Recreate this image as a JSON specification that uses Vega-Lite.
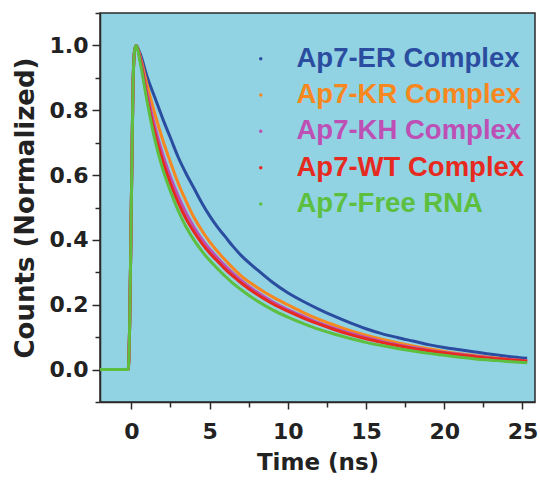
{
  "$schema": "https://vega.github.io/schema/vega-lite/v6.json",
  "autosize": "none",
  "width": 435,
  "height": 389,
  "padding": {"left": 100, "top": 13, "right": 5, "bottom": 81},
  "background": "white",
  "config": {
    "view": {"fill": "#91d3e3", "stroke": "#2a2a2a", "strokeWidth": 1.5},
    "font": "DejaVu Sans",
    "axis": {
      "grid": false,
      "domainColor": "#2a2a2a",
      "domainWidth": 1.5,
      "tickColor": "#2a2a2a",
      "tickWidth": 1.5,
      "labelFont": "DejaVu Sans",
      "labelFontWeight": "bold",
      "labelFontSize": 22,
      "labelColor": "#222222",
      "titleFont": "DejaVu Sans",
      "titleFontWeight": "bold",
      "titleColor": "#222222"
    }
  },
  "data": {
    "values": [
      {"t": -2, "Ap7-ER Complex": 0, "Ap7-KR Complex": 0, "Ap7-KH Complex": 0, "Ap7-WT Complex": 0, "Ap7-Free RNA": 0},
      {"t": -0.2, "Ap7-ER Complex": 0, "Ap7-KR Complex": 0, "Ap7-KH Complex": 0, "Ap7-WT Complex": 0, "Ap7-Free RNA": 0},
      {"t": -0.1, "Ap7-ER Complex": 0.15, "Ap7-KR Complex": 0.15, "Ap7-KH Complex": 0.15, "Ap7-WT Complex": 0.15, "Ap7-Free RNA": 0.15},
      {"t": 0, "Ap7-ER Complex": 0.5, "Ap7-KR Complex": 0.5, "Ap7-KH Complex": 0.5, "Ap7-WT Complex": 0.5, "Ap7-Free RNA": 0.5},
      {"t": 0.1, "Ap7-ER Complex": 0.85, "Ap7-KR Complex": 0.85, "Ap7-KH Complex": 0.85, "Ap7-WT Complex": 0.85, "Ap7-Free RNA": 0.85},
      {"t": 0.2, "Ap7-ER Complex": 0.98, "Ap7-KR Complex": 0.98, "Ap7-KH Complex": 0.98, "Ap7-WT Complex": 0.98, "Ap7-Free RNA": 0.98},
      {"t": 0.3, "Ap7-ER Complex": 1.0, "Ap7-KR Complex": 1.0, "Ap7-KH Complex": 1.0, "Ap7-WT Complex": 1.0, "Ap7-Free RNA": 1.0},
      {"t": 0.6, "Ap7-ER Complex": 0.97, "Ap7-KR Complex": 0.96, "Ap7-KH Complex": 0.955, "Ap7-WT Complex": 0.95, "Ap7-Free RNA": 0.94},
      {"t": 1.0, "Ap7-ER Complex": 0.905, "Ap7-KR Complex": 0.88, "Ap7-KH Complex": 0.855, "Ap7-WT Complex": 0.84, "Ap7-Free RNA": 0.83},
      {"t": 1.5, "Ap7-ER Complex": 0.84, "Ap7-KR Complex": 0.79, "Ap7-KH Complex": 0.75, "Ap7-WT Complex": 0.73, "Ap7-Free RNA": 0.71},
      {"t": 2.0, "Ap7-ER Complex": 0.775, "Ap7-KR Complex": 0.71, "Ap7-KH Complex": 0.665, "Ap7-WT Complex": 0.645, "Ap7-Free RNA": 0.62},
      {"t": 2.5, "Ap7-ER Complex": 0.715, "Ap7-KR Complex": 0.64, "Ap7-KH Complex": 0.595, "Ap7-WT Complex": 0.575, "Ap7-Free RNA": 0.55},
      {"t": 3.0, "Ap7-ER Complex": 0.655, "Ap7-KR Complex": 0.575, "Ap7-KH Complex": 0.535, "Ap7-WT Complex": 0.515, "Ap7-Free RNA": 0.49},
      {"t": 3.5, "Ap7-ER Complex": 0.605, "Ap7-KR Complex": 0.52, "Ap7-KH Complex": 0.483, "Ap7-WT Complex": 0.465, "Ap7-Free RNA": 0.44},
      {"t": 4.0, "Ap7-ER Complex": 0.56, "Ap7-KR Complex": 0.47, "Ap7-KH Complex": 0.44, "Ap7-WT Complex": 0.425, "Ap7-Free RNA": 0.40},
      {"t": 4.5, "Ap7-ER Complex": 0.515, "Ap7-KR Complex": 0.43, "Ap7-KH Complex": 0.403, "Ap7-WT Complex": 0.39, "Ap7-Free RNA": 0.366},
      {"t": 5.0, "Ap7-ER Complex": 0.475, "Ap7-KR Complex": 0.395, "Ap7-KH Complex": 0.372, "Ap7-WT Complex": 0.36, "Ap7-Free RNA": 0.337},
      {"t": 5.5, "Ap7-ER Complex": 0.44, "Ap7-KR Complex": 0.365, "Ap7-KH Complex": 0.345, "Ap7-WT Complex": 0.335, "Ap7-Free RNA": 0.312},
      {"t": 6.0, "Ap7-ER Complex": 0.41, "Ap7-KR Complex": 0.338, "Ap7-KH Complex": 0.32, "Ap7-WT Complex": 0.31, "Ap7-Free RNA": 0.288},
      {"t": 6.5, "Ap7-ER Complex": 0.38, "Ap7-KR Complex": 0.313, "Ap7-KH Complex": 0.297, "Ap7-WT Complex": 0.288, "Ap7-Free RNA": 0.266},
      {"t": 7, "Ap7-ER Complex": 0.353, "Ap7-KR Complex": 0.29, "Ap7-KH Complex": 0.276, "Ap7-WT Complex": 0.268, "Ap7-Free RNA": 0.247},
      {"t": 8, "Ap7-ER Complex": 0.31, "Ap7-KR Complex": 0.255, "Ap7-KH Complex": 0.24, "Ap7-WT Complex": 0.233, "Ap7-Free RNA": 0.213},
      {"t": 9, "Ap7-ER Complex": 0.27, "Ap7-KR Complex": 0.225, "Ap7-KH Complex": 0.21, "Ap7-WT Complex": 0.204, "Ap7-Free RNA": 0.185},
      {"t": 10, "Ap7-ER Complex": 0.237, "Ap7-KR Complex": 0.2, "Ap7-KH Complex": 0.185, "Ap7-WT Complex": 0.18, "Ap7-Free RNA": 0.162},
      {"t": 11, "Ap7-ER Complex": 0.21, "Ap7-KR Complex": 0.176, "Ap7-KH Complex": 0.164, "Ap7-WT Complex": 0.159, "Ap7-Free RNA": 0.142},
      {"t": 12, "Ap7-ER Complex": 0.186, "Ap7-KR Complex": 0.155, "Ap7-KH Complex": 0.144, "Ap7-WT Complex": 0.14, "Ap7-Free RNA": 0.124},
      {"t": 13, "Ap7-ER Complex": 0.164, "Ap7-KR Complex": 0.137, "Ap7-KH Complex": 0.127, "Ap7-WT Complex": 0.123, "Ap7-Free RNA": 0.109},
      {"t": 14, "Ap7-ER Complex": 0.144, "Ap7-KR Complex": 0.12, "Ap7-KH Complex": 0.112, "Ap7-WT Complex": 0.108, "Ap7-Free RNA": 0.096},
      {"t": 15, "Ap7-ER Complex": 0.126, "Ap7-KR Complex": 0.106, "Ap7-KH Complex": 0.099, "Ap7-WT Complex": 0.095, "Ap7-Free RNA": 0.084},
      {"t": 16, "Ap7-ER Complex": 0.111, "Ap7-KR Complex": 0.094, "Ap7-KH Complex": 0.087, "Ap7-WT Complex": 0.084, "Ap7-Free RNA": 0.074},
      {"t": 17, "Ap7-ER Complex": 0.099, "Ap7-KR Complex": 0.083, "Ap7-KH Complex": 0.077, "Ap7-WT Complex": 0.074, "Ap7-Free RNA": 0.065},
      {"t": 18, "Ap7-ER Complex": 0.088, "Ap7-KR Complex": 0.073, "Ap7-KH Complex": 0.068, "Ap7-WT Complex": 0.065, "Ap7-Free RNA": 0.057},
      {"t": 19, "Ap7-ER Complex": 0.077, "Ap7-KR Complex": 0.064, "Ap7-KH Complex": 0.06, "Ap7-WT Complex": 0.058, "Ap7-Free RNA": 0.05},
      {"t": 20, "Ap7-ER Complex": 0.068, "Ap7-KR Complex": 0.056, "Ap7-KH Complex": 0.053, "Ap7-WT Complex": 0.051, "Ap7-Free RNA": 0.044},
      {"t": 21, "Ap7-ER Complex": 0.061, "Ap7-KR Complex": 0.049, "Ap7-KH Complex": 0.047, "Ap7-WT Complex": 0.045, "Ap7-Free RNA": 0.038},
      {"t": 22, "Ap7-ER Complex": 0.054, "Ap7-KR Complex": 0.043, "Ap7-KH Complex": 0.041, "Ap7-WT Complex": 0.04, "Ap7-Free RNA": 0.033},
      {"t": 23, "Ap7-ER Complex": 0.047, "Ap7-KR Complex": 0.037, "Ap7-KH Complex": 0.036, "Ap7-WT Complex": 0.035, "Ap7-Free RNA": 0.029},
      {"t": 24, "Ap7-ER Complex": 0.041, "Ap7-KR Complex": 0.032, "Ap7-KH Complex": 0.032, "Ap7-WT Complex": 0.031, "Ap7-Free RNA": 0.025},
      {"t": 25, "Ap7-ER Complex": 0.036, "Ap7-KR Complex": 0.028, "Ap7-KH Complex": 0.028, "Ap7-WT Complex": 0.027, "Ap7-Free RNA": 0.022},
      {"t": 25.3, "Ap7-ER Complex": 0.035, "Ap7-KR Complex": 0.027, "Ap7-KH Complex": 0.027, "Ap7-WT Complex": 0.026, "Ap7-Free RNA": 0.021}
    ]
  },
  "transform": [
    {"fold": ["Ap7-ER Complex", "Ap7-KR Complex", "Ap7-KH Complex", "Ap7-WT Complex", "Ap7-Free RNA"], "as": ["series", "v"]}
  ],
  "layer": [
    {
      "mark": {"type": "line", "strokeWidth": 3, "interpolate": "monotone", "clip": true},
      "encoding": {
        "x": {
          "field": "t", "type": "quantitative",
          "scale": {"domain": [-2, 25.8], "nice": false, "zero": false},
          "axis": {"values": [0, 5, 10, 15, 20, 25], "tickSize": 7, "labelPadding": 12, "title": "Time (ns)", "titleFontSize": 23, "titlePadding": 9}
        },
        "y": {
          "field": "v", "type": "quantitative",
          "scale": {"domain": [-0.1, 1.1], "nice": false, "zero": false},
          "axis": {"values": [0, 0.2, 0.4, 0.6, 0.8, 1.0], "format": ".1f", "tickSize": 8, "labelPadding": 4, "title": "Counts (Normalized)", "titleFontSize": 26, "titlePadding": 11}
        },
        "color": {
          "field": "series", "type": "nominal",
          "scale": {
            "domain": ["Ap7-ER Complex", "Ap7-KR Complex", "Ap7-KH Complex", "Ap7-WT Complex", "Ap7-Free RNA"],
            "range": ["#2b4da0", "#f7871f", "#bd4fb5", "#e62a1f", "#5dbf3f"]
          },
          "legend": {
            "title": null,
            "orient": "none",
            "legendX": 147,
            "legendY": 32,
            "padding": 0,
            "symbolType": "circle",
            "symbolSize": 12,
            "symbolStrokeWidth": 0,
            "labelFont": "Liberation Sans",
            "labelFontWeight": "bold",
            "labelFontSize": 27.5,
            "labelOffset": 22,
            "labelLimit": 400,
            "rowPadding": 7.3,
            "encode": {
              "labels": {"update": {"fill": {"scale": "color", "field": "value"}}},
              "symbols": {"update": {"fill": {"scale": "color", "field": "value"}, "fillOpacity": {"value": 1}}}
            }
          }
        }
      }
    },
    {
      "mark": {"type": "point", "opacity": 0},
      "encoding": {
        "x": {
          "field": "t", "type": "quantitative",
          "axis": {"orient": "bottom", "values": [2.5, 7.5, 12.5, 17.5, 22.5], "labels": false, "domain": false, "tickSize": 5, "title": null}
        },
        "y": {
          "field": "v", "type": "quantitative",
          "axis": {"orient": "left", "values": [-0.1, 0.1, 0.3, 0.5, 0.7, 0.9, 1.1], "labels": false, "domain": false, "tickSize": 5, "title": null}
        }
      }
    }
  ],
  "resolve": {"axis": {"x": "independent", "y": "independent"}}
}
